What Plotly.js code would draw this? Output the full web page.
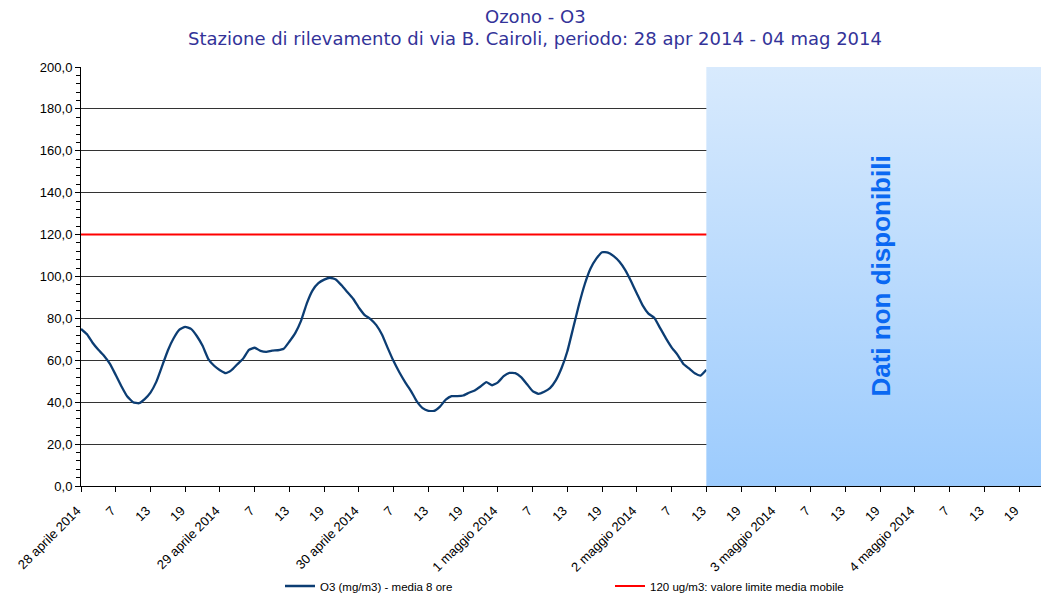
<!DOCTYPE html>
<html>
<head>
<meta charset="utf-8">
<script src="https://cdn.plot.ly/plotly-3.0.1.min.js"></script>
<style>
  html, body { margin: 0; padding: 0; background: #fff; overflow: hidden; }
  #chart { width: 1041px; height: 593px; }
</style>
</head>
<body>
<div id="chart"></div>
<script>
// ---- Data (hourly 8-hour moving average, starting 28 apr 2014 h01) ----
const o3Values = [
  75, 72.5, 68.4, 65, 62.1, 58.3, 53, 47.5, 42.7, 40,
  39.5, 41.5, 44.6, 49.7, 57.2, 64.7, 70.5, 74.6, 76, 75,
  71.6, 66.9, 60.6, 57.4, 55.3, 53.9, 55.3, 58.1, 60.8, 65,
  66, 64.5, 64, 64.6, 64.8, 65.5, 69, 73, 78.8, 87.2,
  93.4, 96.8, 98.5, 99.4, 98.6, 95.8, 92.6, 89.4, 85.1, 81.6,
  79.7, 76.8, 72.2, 65.7, 59.5, 54.2, 49.5, 45.3, 40.4, 37.2,
  35.9, 35.9, 37.9, 41.2, 42.9, 42.9, 43.2, 44.5, 45.6, 47.5,
  49.6, 48.1, 49.5, 52.4, 54, 53.9, 52, 48.7, 45.3, 44,
  45, 46.7, 50.4, 56.3, 64.3, 75.4, 86.5, 96.3, 103.8, 108.5,
  111.6, 111.4, 109.7, 107, 103, 97.7, 91.9, 86.2, 82.3, 80.3,
  75.5, 70.6, 66.2, 62.7, 58.4, 56.1, 53.8, 52.7, 55.5
];
const limitValue = 120;
const periodHours = [0, 168];          // whole week (hours from 28 apr 01:00)
const noDataStart = 108;               // 2 maggio 13:00
const noDataEnd = 168;
const noDataText = 'Dati non disponibili';

const tickHours = [0,6,12,18,24,30,36,42,48,54,60,66,72,78,84,90,96,102,108,114,120,126,132,138,144,150,156,162];
const tickLabels = [
  '28 aprile 2014','7','13','19',
  '29 aprile 2014','7','13','19',
  '30 aprile 2014','7','13','19',
  '1 maggio 2014','7','13','19',
  '2 maggio 2014','7','13','19',
  '3 maggio 2014','7','13','19',
  '4 maggio 2014','7','13','19'
];
const seriesName = 'O3 (mg/m3) - media 8 ore';
const limitName = '120 ug/m3: valore limite media mobile';
const titleLine1 = 'Ozono - O3';
const titleLine2 = 'Stazione di rilevamento di via B. Cairoli, periodo: 28 apr 2014 - 04 mag 2014';

// ---- Traces ----
const traceO3 = {
  type: 'scatter', mode: 'lines',
  y: o3Values, x0: 0, dx: 1,
  name: seriesName,
  line: { color: '#0c3d73', width: 2.3, shape: 'spline', smoothing: 0.4 },
  legend: 'legend',
  hoverinfo: 'skip'
};
const traceLimit = {
  type: 'scatter', mode: 'lines',
  x: periodHours, y: [limitValue, limitValue],
  name: limitName,
  line: { color: '#ff0000', width: 2 },
  legend: 'legend2',
  hoverinfo: 'skip'
};
const traceBox = {
  type: 'scatter', mode: 'lines',
  x: [noDataStart, noDataEnd, noDataEnd, noDataStart, noDataStart],
  y: [0, 0, 200, 200, 0],
  fill: 'toself',
  fillgradient: { type: 'vertical', colorscale: [[0, '#9ccbfd'], [1, '#d8eafd']] },
  line: { width: 0, color: 'rgba(0,0,0,0)' },
  showlegend: false,
  hoverinfo: 'skip'
};

const plotL = 81, plotW = 960, plotB = 486, plotH = 419;
const px2paperX = p => (p - plotL) / plotW;
const px2paperY = p => (plotB - p) / plotH;

const layout = {
  width: 1041, height: 593,
  margin: { l: plotL, r: 0, t: 67, b: 107, pad: 0, autoexpand: false },
  paper_bgcolor: '#ffffff', plot_bgcolor: '#ffffff',
  separators: ',.',
  font: { family: 'Liberation Sans, Arial, sans-serif', size: 13, color: '#000' },
  showlegend: true,
  xaxis: {
    range: [0, 165.8], automargin: false,
    tickmode: 'array', tickvals: tickHours, ticktext: tickLabels,
    tickangle: -45,
    ticks: 'outside', ticklen: 5, tickcolor: '#000', tickwidth: 1,
    ticklabelstandoff: 6, ticklabelshift: -4,
    showgrid: false, zeroline: false,
    showline: true, linecolor: '#000', linewidth: 1,
    tickfont: { size: 13, color: '#000' }
  },
  yaxis: {
    range: [0, 200], dtick: 20, tick0: 0, tickformat: '.1f', automargin: false,
    ticks: 'outside', ticklen: 5, tickcolor: '#000',
    showgrid: true, gridcolor: '#333333', gridwidth: 1,
    zeroline: false,
    showline: true, linecolor: '#000', linewidth: 1,
    tickfont: { size: 13, color: '#000' },
    minor: { dtick: 4, ticks: 'outside', ticklen: 4, tickcolor: '#000', showgrid: false }
  },
  legend: {
    orientation: 'h', x: px2paperX(280), xanchor: 'left',
    y: px2paperY(586), yanchor: 'middle',
    font: { size: 11.5, color: '#000' }, bgcolor: 'rgba(0,0,0,0)'
  },
  legend2: {
    orientation: 'h', x: px2paperX(610), xanchor: 'left',
    y: px2paperY(586), yanchor: 'middle',
    font: { size: 11.5, color: '#000' }, bgcolor: 'rgba(0,0,0,0)'
  },
  annotations: [
    { xref: 'paper', yref: 'paper', x: px2paperX(535), y: px2paperY(16),
      xanchor: 'center', yanchor: 'middle', showarrow: false, text: titleLine1,
      font: { family: 'DejaVu Sans, Verdana, sans-serif', size: 18, color: '#333399' } },
    { xref: 'paper', yref: 'paper', x: px2paperX(535), y: px2paperY(39),
      xanchor: 'center', yanchor: 'middle', showarrow: false, text: titleLine2,
      font: { family: 'DejaVu Sans, Verdana, sans-serif', size: 18, color: '#333399' } },
    { xref: 'x', yref: 'y', x: (noDataStart + noDataEnd) / 2, y: 100,
      xanchor: 'center', yanchor: 'middle', showarrow: false, textangle: -90,
      text: '<b>' + noDataText + '</b>',
      font: { family: 'Liberation Sans, Arial, sans-serif', size: 26, color: '#0a68f2' } }
  ]
};

Plotly.newPlot('chart', [traceO3, traceLimit, traceBox], layout, { displayModeBar: false, staticPlot: true });
</script>
</body>
</html>
